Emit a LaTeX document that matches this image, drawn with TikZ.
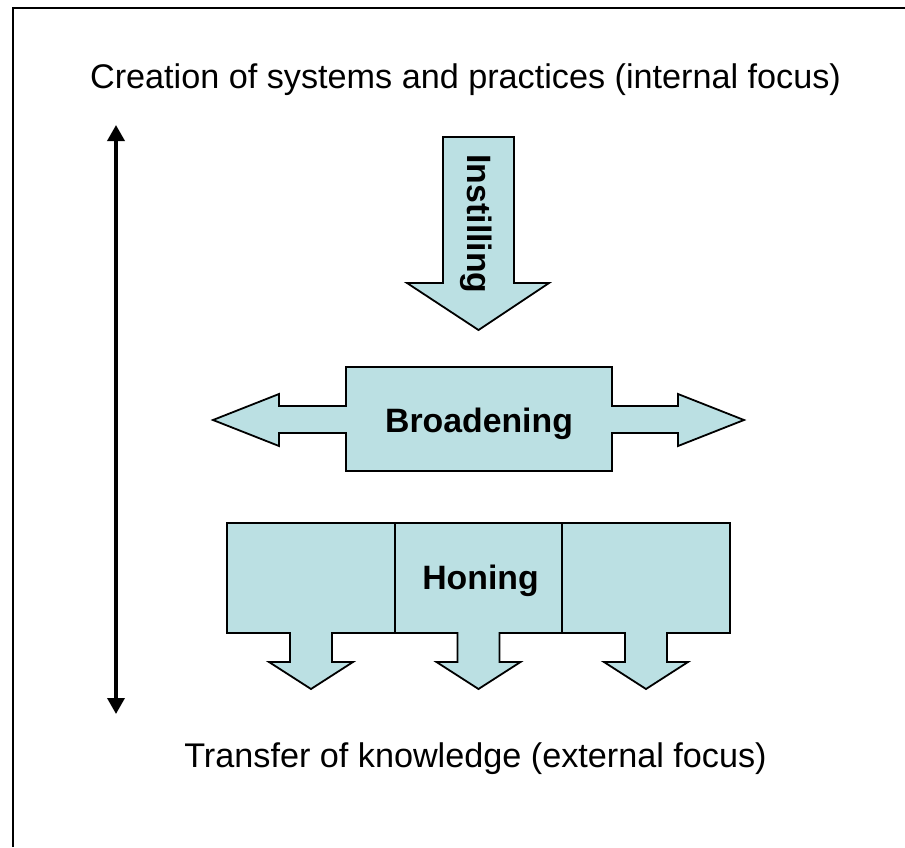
\documentclass[tikz,border=0pt]{standalone}
\usepackage{fontspec}
\setmainfont{Liberation Sans}
\usetikzlibrary{arrows.meta}

\definecolor{paleteal}{RGB}{187,224,227}

\tikzset{
  blockshape/.style={fill=paleteal,draw=black,line width=1.8pt,line join=miter},
  caption/.style={font=\fontsize{34.2}{40}\selectfont,anchor=base},
  blocklabel/.style={font=\fontsize{33.8}{40}\selectfont\bfseries,anchor=base}
}

\begin{document}
\begin{tikzpicture}[x=1pt,y=-1pt]
        \useasboundingbox (0,0) rectangle (905,847);
        % Frame
        \draw[line width=1.8pt] (13,847) -- (13,8) -- (905,8);
        % Headings
        \node[caption] (internal) at (465.5,88) {Creation of systems and practices (internal focus)};
        \node[caption] (external) at (475.5,767) {Transfer of knowledge (external focus)};
        % Axis between the two foci
        \coordinate (axistop) at (116,125);
        \coordinate (axisbot) at (116,714);
        \draw[line width=3.5pt,{Triangle[width=17pt,length=16pt]}-{Triangle[width=17pt,length=16pt]}] (axisbot) -- (axistop);
        % Instilling (arrow down)
        \draw[blockshape] (443,137) -- (514,137) -- (514,283) -- (549,283) -- (478.5,330)
              -- (407,283) -- (443,283) -- cycle;
        \node[font=\fontsize{33.8}{40}\selectfont\bfseries,rotate=-90] (instilling) at (476,224) {Instilling};
        % Broadening (box with arrows to both sides)
        \draw[blockshape] (346,367) -- (612,367) -- (612,406) -- (678,406) -- (678,394) -- (744,420)
              -- (678,446) -- (678,433) -- (612,433) -- (612,471) -- (346,471) -- (346,433)
              -- (279,433) -- (279,446) -- (213,420) -- (279,394) -- (279,406) -- (346,406) -- cycle;
        \node[blocklabel] (broadening) at (479,432) {Broadening};
        % Honing (three cells, each with an arrow down)
        \foreach \xa/\xb in {227/395,395/562,562/730}{
          \pgfmathsetmacro{\xc}{(\xa+\xb)/2}
          \draw[blockshape] (\xa,523) -- (\xb,523) -- (\xb,633) -- (\xc+21,633) -- (\xc+21,662)
                -- (\xc+42,662) -- (\xc,689) -- (\xc-42,662) -- (\xc-21,662) -- (\xc-21,633)
                -- (\xa,633) -- cycle;
        }
        \node[blocklabel] (honing) at (480.5,589) {Honing};
\end{tikzpicture}
\end{document}
